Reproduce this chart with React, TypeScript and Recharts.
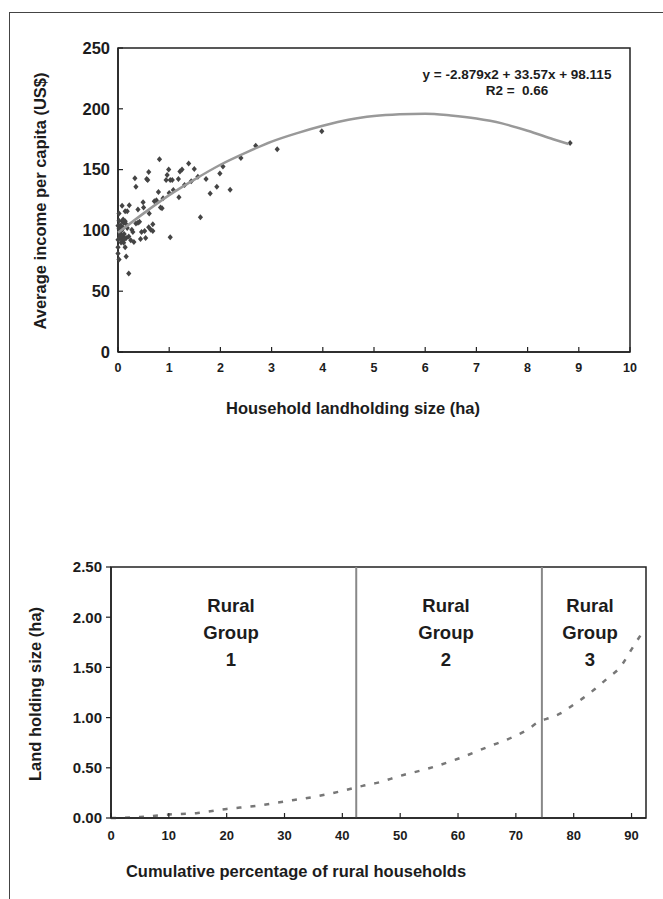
import { ScatterChart, Scatter, XAxis, YAxis, ReferenceArea, LineChart, Line, ReferenceLine } from "recharts";

// top panel: household landholding (ha) vs income per capita (US$)
const landSize = [
  0.02, 0, 0.02, 0.04, 0, 0, 0, 0.02, 0.06, 0.08, 0.11, 0.14, 0.16, 0.08, 0.14, 0.18, 0.22,
  0.08, 0.11, 0.16, 0.14, 0.16, 0.21, 0.21, 0.25, 0.27, 0.29, 0.31, 0.33, 0.35, 0.39, 0.35,
  0.39, 0.42, 0.44, 0.46, 0.49, 0.5, 0.52, 0.54, 0.56, 0.58, 0.6, 0.61, 0.6, 0.64, 0.68,
  0.71, 0.75, 0.68, 0.79, 0.81, 0.86, 0.83, 0.88, 0.94, 0.96, 0.99, 1.0, 1.02, 1.06, 1.08,
  1.02, 1.18, 1.19, 1.21, 1.25, 1.3, 1.38, 1.43, 1.49, 1.56, 1.61, 1.72, 1.8, 1.93, 1.99,
  2.05, 2.19, 2.4, 2.69, 3.11, 3.98, 8.83,
  0.03, 0.05, 0.07, 0.1, 0.12, 0.04, 0.02, 0.09, 0.13, 0.06, 0.03, 0.1, 0.18,
];
const income = [
  113.9, 103.8, 101.3, 96.2, 92.4, 86.1, 81.1, 76, 103.8, 107.6, 106.3, 107.6, 105, 120.2, 115.7, 115.7, 120.7,
  92.4, 89.9, 93.7, 86.1, 78.5, 64.6, 95, 91.9, 100.5, 98.7, 90.4, 142.9, 135.9, 117.2, 105.6,
  106.3, 107.1, 92.9, 98.7, 123.2, 118.9, 99.5, 93.7, 142.2, 141.4, 148, 113.9, 102.5, 100.5, 105,
  124, 124.7, 99.5, 131.6, 158.6, 118.2, 118.9, 126.5, 141.4, 145.5, 150, 130.8, 141.4, 141.4, 133.3,
  94.4, 142.2, 127.3, 148.5, 150, 137.4, 155.1, 140.4, 150.5, 144.2, 110.9, 142.2, 130.3, 135.9, 146.7,
  152.5, 133.4, 159.6, 169.6, 166.8, 181.6, 171.9,
  99, 97, 100, 102, 97, 104, 108, 95, 93, 90, 94, 109, 102,
];
// fitted trend line as it is drawn on the picture
const trendX = [0, 0.5, 1, 1.5, 2, 2.5, 3, 3.5, 4, 4.5, 5, 5.5, 6, 6.5, 7, 7.5, 8, 8.5, 8.8];
const trendY = [98, 114, 129, 142, 154, 164, 173, 180, 186, 191, 194, 195.5, 196, 194.5, 192, 188, 182, 175, 171];
const incomeTicks = [0, 50, 100, 150, 200, 250];
const landTicks = [0, 1, 2, 3, 4, 5, 6, 7, 8, 9, 10];

// bottom panel: cumulative % of rural households vs land holding size
const cumPct = [0, 5, 10, 15, 20, 25, 30, 35, 40, 43.5, 46, 50, 55, 60, 65, 70, 72, 74, 76, 78, 80, 82, 84, 86, 88, 90, 92];
const holding = [0, 0.01, 0.035, 0.05, 0.09, 0.12, 0.165, 0.21, 0.27, 0.32, 0.35, 0.42, 0.495, 0.59, 0.705, 0.82, 0.88, 0.96, 1.0, 1.05, 1.13, 1.21, 1.3, 1.4, 1.5, 1.68, 1.86];
const pctTicks = [0, 10, 20, 30, 40, 50, 60, 70, 80, 90];
const haTicks = [0, 0.5, 1, 1.5, 2, 2.5];
const groupBounds = [42.4, 74.5];
const groupNames = ["1", "2", "3"];
const groupCenters = [231, 446, 590];

const font = "'Liberation Sans', Arial, sans-serif";
const ink = "#1c1c1c";

const points = landSize.map((x, i) => ({ x, y: income[i] }));
const trend = trendX.map((x, i) => ({ x, y: trendY[i] }));
const curve = cumPct.map((p, i) => ({ p, h: holding[i] }));

// small excel-style diamond marker
const Diamond = (props: any) => {
  const { cx, cy } = props;
  if (cx == null || cy == null) return <g />;
  return <path d={`M${cx},${cy - 3}L${cx + 2.6},${cy}L${cx},${cy + 3}L${cx - 2.6},${cy}Z`} fill="#444" />;
};

const App = () => {
  return (
    <div style={{ position: "absolute", left: 0, top: 0, width: 663, height: 899, background: "#fff", fontFamily: font, color: ink }}>
      <div style={{ position: "absolute", left: 9, top: 12, width: 654, height: 887, borderLeft: "1.5px solid #444", borderTop: "1.5px solid #444" }} />

      <div style={{ position: "absolute", left: 0, top: 0 }}>
        <ScatterChart width={663} height={400} margin={{ top: 48, right: 33, bottom: 0, left: 0 }}>
          <XAxis
            type="number"
            dataKey="x"
            domain={[0, 10]}
            ticks={landTicks}
            height={48}
            tick={{ fill: ink, fontSize: 12.5, fontWeight: 700, fontFamily: font }}
            tickSize={-5}
            tickMargin={16}
            axisLine={{ stroke: "#222", strokeWidth: 1.5 }}
            tickLine={{ stroke: "#222", strokeWidth: 1.2 }}
          />
          <YAxis
            type="number"
            dataKey="y"
            domain={[0, 250]}
            ticks={incomeTicks}
            width={118}
            tick={{ fill: ink, fontSize: 16.5, fontWeight: 700, fontFamily: font }}
            tickSize={-5}
            tickMargin={13}
            axisLine={{ stroke: "#222", strokeWidth: 1.5 }}
            tickLine={{ stroke: "#222", strokeWidth: 1.2 }}
          />
          <ReferenceArea x1={0} x2={10} y1={0} y2={250} fill="none" stroke="#222" strokeWidth={1.5} />
          <Scatter data={points} shape={Diamond} fill="#444" isAnimationActive={false} />
          <Scatter
            data={trend}
            line={{ stroke: "#999", strokeWidth: 2.5 }}
            lineJointType="monotoneX"
            shape={() => <g />}
            isAnimationActive={false}
          />
        </ScatterChart>
      </div>

      <div style={{ position: "absolute", left: 412, top: 67, width: 210, textAlign: "center", fontSize: 13.5, fontWeight: 700, lineHeight: "16px" }}>
        <div>y = -2.879x2 + 33.57x + 98.115</div>
        <div>R2 =&nbsp; 0.66</div>
      </div>
      <div style={{ position: "absolute", left: 40, top: 201, width: 0, height: 0 }}>
        <div style={{ position: "absolute", transform: "translate(-50%, -50%) rotate(-90deg)", whiteSpace: "nowrap", fontSize: 16.5, fontWeight: 700 }}>
          Average income per capita (US$)
        </div>
      </div>
      <div style={{ position: "absolute", left: 153, top: 399, width: 400, textAlign: "center", fontSize: 16.5, fontWeight: 700 }}>
        Household landholding size (ha)
      </div>

      <div style={{ position: "absolute", left: 0, top: 540 }}>
        <LineChart width={663} height={320} data={curve} margin={{ top: 27, right: 17, bottom: 0, left: 0 }}>
          <XAxis
            type="number"
            dataKey="p"
            domain={[0, 92.5]}
            ticks={pctTicks}
            height={42}
            tick={{ fill: ink, fontSize: 13, fontWeight: 700, fontFamily: font }}
            tickSize={-5}
            tickMargin={18}
            axisLine={{ stroke: "#222", strokeWidth: 1.5 }}
            tickLine={{ stroke: "#222", strokeWidth: 1.2 }}
          />
          <YAxis
            type="number"
            domain={[0, 2.5]}
            ticks={haTicks}
            width={111}
            tickFormatter={(v: number) => v.toFixed(2)}
            tick={{ fill: ink, fontSize: 15, fontWeight: 700, fontFamily: font }}
            tickSize={5}
            tickMargin={4}
            axisLine={{ stroke: "#222", strokeWidth: 1.5 }}
            tickLine={{ stroke: "#222", strokeWidth: 1.2 }}
          />
          <ReferenceArea x1={0} x2={92.5} y1={0} y2={2.5} fill="none" stroke="#222" strokeWidth={1.5} />
          {groupBounds.map((b) => (
            <ReferenceLine key={b} x={b} stroke="#888" strokeWidth={2} />
          ))}
          <Line
            dataKey="h"
            type="monotone"
            stroke="#777"
            strokeWidth={2.5}
            strokeDasharray="5 9"
            dot={false}
            isAnimationActive={false}
          />
        </LineChart>
      </div>

      {groupNames.map((g, i) => (
        <div
          key={g}
          style={{ position: "absolute", left: groupCenters[i] - 50, top: 592, width: 100, textAlign: "center", fontSize: 18.5, fontWeight: 700, lineHeight: "27px" }}
        >
          <div>Rural</div>
          <div>Group</div>
          <div>{g}</div>
        </div>
      ))}
      <div style={{ position: "absolute", left: 35, top: 694, width: 0, height: 0 }}>
        <div style={{ position: "absolute", transform: "translate(-50%, -50%) rotate(-90deg)", whiteSpace: "nowrap", fontSize: 16.5, fontWeight: 700 }}>
          Land holding size (ha)
        </div>
      </div>
      <div style={{ position: "absolute", left: 96, top: 862, width: 400, textAlign: "center", fontSize: 16.5, fontWeight: 700 }}>
        Cumulative percentage of rural households
      </div>
    </div>
  );
};

export default App;
